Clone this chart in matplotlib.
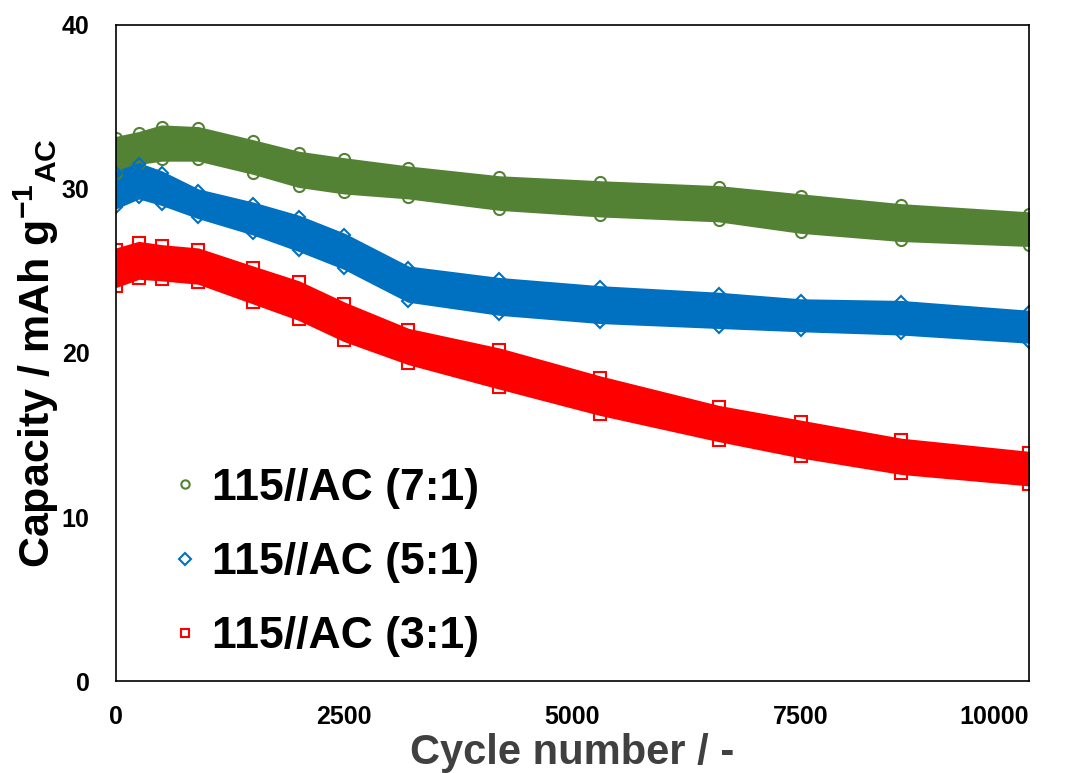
import numpy as np
import matplotlib.pyplot as plt

plt.rcParams['font.family'] = ['Liberation Sans', 'DejaVu Sans']
plt.rcParams['font.weight'] = 'bold'
plt.rcParams['axes.labelweight'] = 'bold'
plt.rcParams['mathtext.fontset'] = 'custom'
plt.rcParams['mathtext.rm'] = 'Liberation Sans:bold'
plt.rcParams['mathtext.bf'] = 'Liberation Sans:bold'
plt.rcParams['mathtext.default'] = 'bf'

# cycle numbers where the band edges were read
cycles = [0, 250, 500, 900, 1500, 2000, 2500, 3200, 4200, 5300, 6600, 7500, 8600, 10000]

# upper / lower edge of each scatter band (mAh g-1)
hi_71 = [33.1, 33.4, 33.8, 33.7, 32.9, 32.2, 31.8, 31.3, 30.7, 30.4, 30.1, 29.6, 29.0, 28.5]
lo_71 = [31.0, 31.6, 31.8, 31.8, 31.0, 30.2, 29.8, 29.5, 28.8, 28.4, 28.1, 27.4, 26.9, 26.6]

hi_51 = [31.0, 31.5, 31.0, 29.9, 29.1, 28.3, 27.2, 25.2, 24.5, 24.0, 23.6, 23.2, 23.1, 22.5]
lo_51 = [28.9, 29.5, 29.1, 28.3, 27.3, 26.3, 25.2, 23.2, 22.4, 21.9, 21.6, 21.4, 21.2, 20.7]

hi_31 = [26.3, 26.7, 26.5, 26.3, 25.2, 24.3, 23.0, 21.4, 20.2, 18.5, 16.7, 15.8, 14.7, 13.9]
lo_31 = [24.1, 24.6, 24.5, 24.3, 23.1, 22.1, 20.8, 19.4, 17.9, 16.3, 14.7, 13.7, 12.7, 12.0]

labels = ['115//AC (7:1)', '115//AC (5:1)', '115//AC (3:1)']
colors = ['#548235', '#0070C0', '#FF0000']
markers = ['o', 'D', 's']

fig = plt.figure(figsize=(10.71, 7.73), dpi=100)
ax = fig.add_axes([0.1083, 0.119, 0.8525, 0.8487])

bands = [(hi_71, lo_71), (hi_51, lo_51), (hi_31, lo_31)]
for (hi, lo), c, m, lab in zip(bands, colors, markers, labels):
    ax.fill_between(cycles, lo, hi, color=c, lw=2.5, edgecolor=c)
    ms = 8 if m != 'D' else 6.5
    ax.plot(cycles, hi, ls='none', marker=m, mfc='none', mec=c, ms=ms, mew=1.5)
    ax.plot(cycles, lo, ls='none', marker=m, mfc='none', mec=c, ms=ms, mew=1.5)
    ax.plot([], [], ls='none', marker=m, mfc='none', mec=c, ms=6, mew=1.5, label=lab)

ax.set_xlim(0, 10000)
ax.set_ylim(0, 40)
ax.set_xticks([0, 2500, 5000, 7500, 10000])
ax.set_yticks([0, 10, 20, 30, 40])
ax.tick_params(length=0, labelsize=18)
ax.tick_params(axis='x', pad=17)
ax.tick_params(axis='y', pad=19)
ax.get_xticklabels()[-1].set_horizontalalignment('right')
for s in ax.spines.values():
    s.set_linewidth(1.2)

ax.set_xlabel('Cycle number / -', fontsize=30, color='#404040')
ax.xaxis.set_label_coords(0.5, -0.08)
ax.set_ylabel('Capacity / mAh g$^{-1}$$_{AC}$', fontsize=31)
ax.yaxis.set_label_coords(-0.06, 0.5)

ax.legend(loc='upper left', bbox_to_anchor=(0.0515, 0.325), frameon=False,
          fontsize=32, handletextpad=0.1, labelspacing=0.75, handlelength=1.0,
          borderpad=0, borderaxespad=0)

fig.savefig('out.png', dpi=100)
